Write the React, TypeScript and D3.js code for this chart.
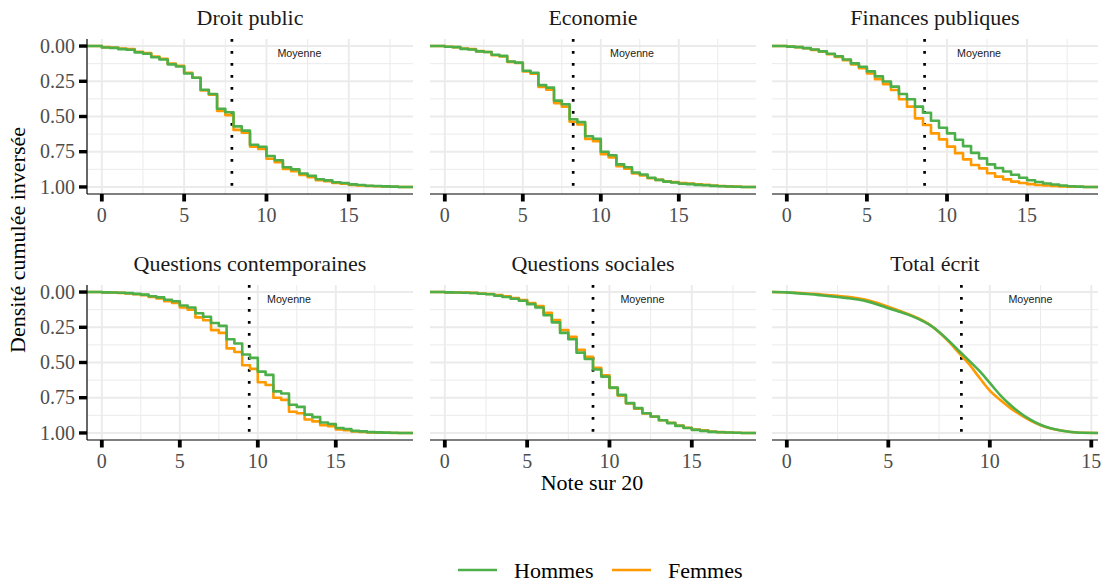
import React, { useEffect, useRef } from 'react';
import * as d3 from 'd3';

const width = 1107;
const height = 584;

const couleurs = { Hommes: '#4daf4a', Femmes: '#ff9900' };

const titres = [
  'Droit public',
  'Economie',
  'Finances publiques',
  'Questions contemporaines',
  'Questions sociales',
  'Total écrit',
];
// note max de chaque epreuve, et moyenne (ligne pointillee)
const noteMax = [18, 19, 18.5, 19, 18, 14.6];
const moyennes = [7.9, 8.23, 8.6, 9.45, 9.0, 8.6];
const pas = 0.5;

// densite cumulee, une valeur par demi-point a partir de 0
const droitHommes = [0.01, 0.013, 0.022, 0.026, 0.045, 0.055, 0.08, 0.095, 0.13, 0.145, 0.195, 0.225, 0.31, 0.34, 0.445, 0.47, 0.57, 0.6, 0.7, 0.715, 0.78, 0.81, 0.86, 0.875, 0.905, 0.92, 0.945, 0.953, 0.967, 0.972, 0.982, 0.986, 0.991, 0.993, 0.996, 0.998, 1];
const droitFemmes = [0.008, 0.01, 0.018, 0.022, 0.04, 0.05, 0.075, 0.09, 0.125, 0.14, 0.19, 0.225, 0.315, 0.345, 0.46, 0.49, 0.595, 0.615, 0.715, 0.73, 0.8, 0.825, 0.872, 0.888, 0.915, 0.93, 0.952, 0.96, 0.972, 0.977, 0.986, 0.989, 0.993, 0.995, 0.997, 0.999, 1];
const economieHommes = [0.005, 0.008, 0.02, 0.024, 0.038, 0.042, 0.062, 0.07, 0.11, 0.118, 0.175, 0.19, 0.277, 0.295, 0.387, 0.413, 0.52, 0.54, 0.64, 0.658, 0.75, 0.775, 0.84, 0.86, 0.897, 0.912, 0.935, 0.95, 0.962, 0.968, 0.977, 0.98, 0.985, 0.988, 0.992, 0.995, 0.997, 0.999, 1];
const economieFemmes = [0.005, 0.008, 0.018, 0.022, 0.036, 0.042, 0.065, 0.073, 0.112, 0.12, 0.18, 0.197, 0.29, 0.31, 0.405, 0.43, 0.537, 0.557, 0.66, 0.675, 0.768, 0.79, 0.853, 0.87, 0.905, 0.918, 0.938, 0.95, 0.96, 0.966, 0.972, 0.976, 0.981, 0.985, 0.99, 0.993, 0.996, 0.998, 1];
const financesHommes = [0.004, 0.008, 0.015, 0.025, 0.038, 0.055, 0.072, 0.095, 0.123, 0.147, 0.18, 0.215, 0.252, 0.288, 0.34, 0.378, 0.43, 0.473, 0.53, 0.58, 0.62, 0.665, 0.71, 0.758, 0.797, 0.84, 0.866, 0.89, 0.913, 0.935, 0.952, 0.965, 0.975, 0.983, 0.99, 0.995, 0.998, 1];
const financesFemmes = [0.004, 0.008, 0.016, 0.027, 0.04, 0.058, 0.078, 0.1, 0.13, 0.158, 0.195, 0.235, 0.27, 0.312, 0.378, 0.43, 0.513, 0.56, 0.62, 0.662, 0.714, 0.76, 0.804, 0.844, 0.868, 0.903, 0.927, 0.946, 0.962, 0.972, 0.98, 0.986, 0.99, 0.993, 0.996, 0.998, 0.999, 1];
const contempHommes = [0.002, 0.003, 0.005, 0.008, 0.013, 0.018, 0.03, 0.038, 0.055, 0.065, 0.095, 0.11, 0.15, 0.175, 0.22, 0.24, 0.335, 0.365, 0.443, 0.467, 0.565, 0.588, 0.705, 0.72, 0.8, 0.815, 0.87, 0.888, 0.926, 0.936, 0.965, 0.972, 0.985, 0.989, 0.994, 0.996, 0.998, 0.999, 1];
const contempFemmes = [0.002, 0.003, 0.006, 0.01, 0.016, 0.022, 0.035, 0.045, 0.065, 0.078, 0.11, 0.125, 0.18, 0.2, 0.27, 0.29, 0.4, 0.425, 0.52, 0.545, 0.64, 0.66, 0.75, 0.765, 0.85, 0.86, 0.905, 0.918, 0.945, 0.952, 0.975, 0.98, 0.99, 0.992, 0.996, 0.998, 0.999, 1, 1];
const socialesHommes = [0.002, 0.003, 0.005, 0.007, 0.012, 0.016, 0.026, 0.035, 0.048, 0.062, 0.086, 0.11, 0.165, 0.215, 0.29, 0.335, 0.43, 0.475, 0.55, 0.6, 0.678, 0.73, 0.788, 0.824, 0.86, 0.883, 0.91, 0.93, 0.95, 0.965, 0.978, 0.985, 0.992, 0.995, 0.997, 0.999, 1];
const socialesFemmes = [0.002, 0.003, 0.004, 0.006, 0.01, 0.014, 0.022, 0.03, 0.043, 0.056, 0.078, 0.1, 0.148, 0.198, 0.27, 0.318, 0.41, 0.46, 0.537, 0.59, 0.68, 0.735, 0.79, 0.828, 0.862, 0.885, 0.91, 0.928, 0.948, 0.963, 0.975, 0.982, 0.99, 0.994, 0.997, 0.999, 1];
const totalHommes = [0.002, 0.008, 0.014, 0.02, 0.028, 0.035, 0.043, 0.053, 0.068, 0.09, 0.115, 0.138, 0.162, 0.192, 0.23, 0.283, 0.348, 0.42, 0.49, 0.562, 0.645, 0.729, 0.8, 0.858, 0.905, 0.942, 0.966, 0.982, 0.993, 0.999];
const totalFemmes = [0.002, 0.006, 0.01, 0.015, 0.021, 0.027, 0.034, 0.044, 0.058, 0.08, 0.104, 0.13, 0.157, 0.188, 0.228, 0.285, 0.355, 0.435, 0.515, 0.61, 0.7, 0.765, 0.822, 0.87, 0.912, 0.945, 0.968, 0.983, 0.993, 0.999];

const hommes = [droitHommes, economieHommes, financesHommes, contempHommes, socialesHommes, totalHommes];
const femmes = [droitFemmes, economieFemmes, financesFemmes, contempFemmes, socialesFemmes, totalFemmes];

const xTicks = [0, 5, 10, 15];
const xMinor = [2.5, 7.5, 12.5, 17.5];
const yTicks = [0, 0.25, 0.5, 0.75, 1];
const yMinor = [0.125, 0.375, 0.625, 0.875];

const colX = [87, 430, 772];
const rowY = [39, 285];
const panelW = 326;
const panelH = 155;

const serif = '"Liberation Serif", "Times New Roman", serif';

type Pt = [number, number];

export default function App(): JSX.Element {
  const container = useRef<HTMLDivElement>(null);

  useEffect(() => {
    const root = d3.select(container.current);
    root.selectAll('*').remove();
    const svg = root
      .append('svg')
      .attr('width', width)
      .attr('height', height)
      .style('position', 'absolute')
      .style('left', 0)
      .style('top', 0)
      .style('background', '#fff');

    titres.forEach((titre, i) => {
      const col = i % 3;
      const row = Math.floor(i / 3);
      const left = colX[col];
      const top = rowY[row];
      const bottom = top + panelH;
      const max = noteMax[i];
      const ext = max * 0.05;

      const x = d3.scaleLinear().domain([-ext, max + ext]).range([left, left + panelW]);
      const y = d3.scaleLinear().domain([-0.05, 1.05]).range([top, bottom]);

      const g = svg.append('g');

      // grille secondaire
      g.selectAll('.minx')
        .data(xMinor.filter((v) => v < max + ext))
        .enter()
        .append('line')
        .attr('x1', (d) => x(d))
        .attr('x2', (d) => x(d))
        .attr('y1', top)
        .attr('y2', bottom)
        .attr('stroke', '#ebebeb')
        .attr('stroke-width', 1);
      g.selectAll('.miny')
        .data(yMinor)
        .enter()
        .append('line')
        .attr('x1', left)
        .attr('x2', left + panelW)
        .attr('y1', (d) => y(d))
        .attr('y2', (d) => y(d))
        .attr('stroke', '#ebebeb')
        .attr('stroke-width', 1);
      // grille principale
      g.selectAll('.majx')
        .data(xTicks.filter((v) => v < max + ext))
        .enter()
        .append('line')
        .attr('x1', (d) => x(d))
        .attr('x2', (d) => x(d))
        .attr('y1', top)
        .attr('y2', bottom)
        .attr('stroke', '#ebebeb')
        .attr('stroke-width', 1.9);
      g.selectAll('.majy')
        .data(yTicks)
        .enter()
        .append('line')
        .attr('x1', left)
        .attr('x2', left + panelW)
        .attr('y1', (d) => y(d))
        .attr('y2', (d) => y(d))
        .attr('stroke', '#ebebeb')
        .attr('stroke-width', 1.9);

      // titre du panneau
      g.append('text')
        .attr('x', left + panelW / 2)
        .attr('y', top - 14)
        .attr('text-anchor', 'middle')
        .attr('font-family', serif)
        .attr('font-size', 22)
        .attr('fill', '#1a1a1a')
        .text(titre);

      // moyenne
      g.append('line')
        .attr('x1', x(moyennes[i]))
        .attr('x2', x(moyennes[i]))
        .attr('y1', top)
        .attr('y2', bottom)
        .attr('stroke', '#000')
        .attr('stroke-width', 2.7)
        .attr('stroke-dasharray', '2.7,9.3');
      g.append('text')
        .attr('x', x(12))
        .attr('y', y(0.05))
        .attr('dy', '0.35em')
        .attr('text-anchor', 'middle')
        .attr('font-family', '"Liberation Sans", Arial, sans-serif')
        .attr('font-size', 10.7)
        .attr('fill', '#1a1a1a')
        .text('Moyenne');

      // courbes
      const makePts = (vals: number[]): Pt[] => {
        const pts: Pt[] = [[-ext, 0]];
        vals.forEach((v, k) => pts.push([k * pas, v]));
        pts.push([max + ext, 1]);
        return pts;
      };
      const line = d3
        .line<Pt>()
        .x((d) => x(d[0]))
        .y((d) => y(d[1]))
        .curve(i === 5 ? d3.curveMonotoneX : d3.curveStepAfter);

      [
        { vals: femmes[i], color: couleurs.Femmes },
        { vals: hommes[i], color: couleurs.Hommes },
      ].forEach((s) => {
        g.append('path')
          .attr('d', line(makePts(s.vals)) || '')
          .attr('fill', 'none')
          .attr('stroke', s.color)
          .attr('stroke-width', 2.6)
          .attr('stroke-linejoin', 'round');
      });

      // axe x
      g.append('line')
        .attr('x1', left)
        .attr('x2', left + panelW)
        .attr('y1', bottom)
        .attr('y2', bottom)
        .attr('stroke', '#000')
        .attr('stroke-width', 1.2);
      xTicks
        .filter((v) => v < max + ext)
        .forEach((v) => {
          g.append('line')
            .attr('x1', x(v))
            .attr('x2', x(v))
            .attr('y1', bottom)
            .attr('y2', bottom + 7.5)
            .attr('stroke', '#000')
            .attr('stroke-width', 3.8);
          g.append('text')
            .attr('x', x(v))
            .attr('y', bottom + 28)
            .attr('text-anchor', 'middle')
            .attr('font-family', serif)
            .attr('font-size', 20)
            .attr('fill', '#4d4d4d')
            .text(String(v));
        });

      // axe y, premiere colonne seulement
      if (col === 0) {
        g.append('line')
          .attr('x1', left)
          .attr('x2', left)
          .attr('y1', top)
          .attr('y2', bottom)
          .attr('stroke', '#000')
          .attr('stroke-width', 1.2);
        yTicks.forEach((v) => {
          g.append('line')
            .attr('x1', left - 8)
            .attr('x2', left)
            .attr('y1', y(v))
            .attr('y2', y(v))
            .attr('stroke', '#000')
            .attr('stroke-width', 3.4);
          g.append('text')
            .attr('x', left - 12)
            .attr('y', y(v))
            .attr('dy', '0.33em')
            .attr('text-anchor', 'end')
            .attr('font-family', serif)
            .attr('font-size', 20)
            .attr('fill', '#4d4d4d')
            .text(d3.format('.2f')(v));
        });
      }
    });

    // titres des axes
    svg
      .append('text')
      .attr('transform', 'translate(25,240) rotate(-90)')
      .attr('text-anchor', 'middle')
      .attr('font-family', serif)
      .attr('font-size', 22)
      .attr('fill', '#000')
      .text('Densité cumulée inversée');
    svg
      .append('text')
      .attr('x', 592)
      .attr('y', 490)
      .attr('text-anchor', 'middle')
      .attr('font-family', serif)
      .attr('font-size', 22)
      .attr('fill', '#000')
      .text('Note sur 20');

    // legende
    const legende = [
      { label: 'Hommes', color: couleurs.Hommes, x: 458 },
      { label: 'Femmes', color: couleurs.Femmes, x: 612 },
    ];
    legende.forEach((l) => {
      svg
        .append('line')
        .attr('x1', l.x)
        .attr('x2', l.x + 39)
        .attr('y1', 570)
        .attr('y2', 570)
        .attr('stroke', l.color)
        .attr('stroke-width', 2.6);
      svg
        .append('text')
        .attr('x', l.x + 56)
        .attr('y', 578)
        .attr('font-family', serif)
        .attr('font-size', 22)
        .attr('fill', '#000')
        .text(l.label);
    });
  }, []);

  return <div ref={container} />;
}
